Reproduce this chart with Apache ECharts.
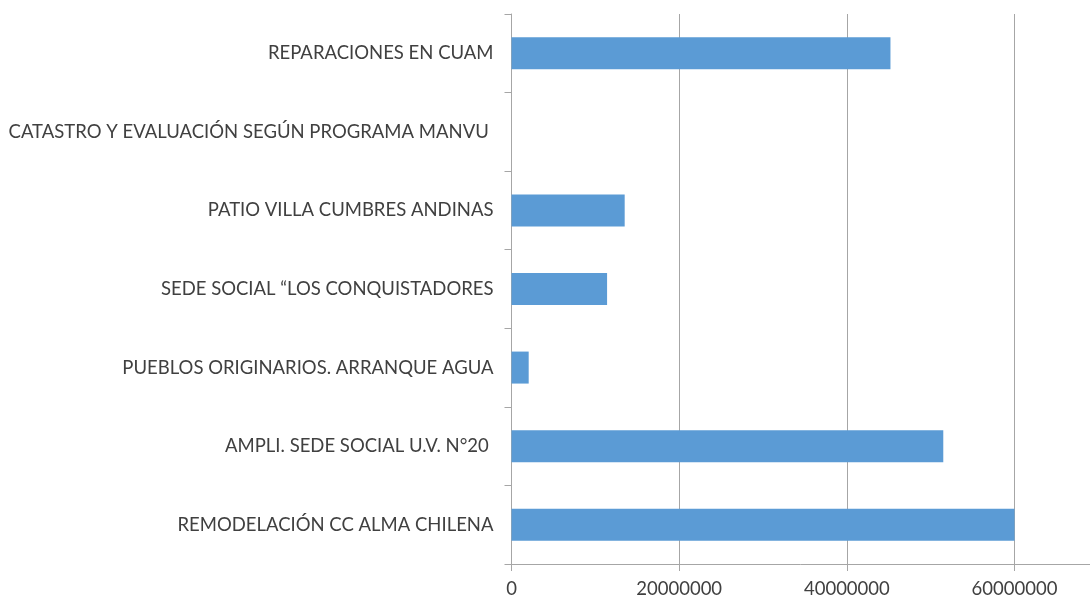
<!DOCTYPE html>
<html>
<head>
<meta charset="utf-8">
<script src="https://cdn.jsdelivr.net/npm/echarts@6/dist/echarts.min.js"></script>
<style>
  html, body { margin: 0; padding: 0; background: #fff; }
  #chart { width: 1090px; height: 603px; }
</style>
</head>
<body>
<div id="chart"></div>
<script>
// categories, bottom to top as drawn on the axis
const projects = [
  'REMODELACIÓN CC ALMA CHILENA',
  'AMPLI. SEDE SOCIAL U.V. N°20 ',
  'PUEBLOS ORIGINARIOS. ARRANQUE AGUA',
  'SEDE SOCIAL “LOS CONQUISTADORES',
  'PATIO VILLA CUMBRES ANDINAS',
  'CATASTRO Y EVALUACIÓN SEGÚN PROGRAMA MANVU ',
  'REPARACIONES EN CUAM'
];
const amounts = [60000000, 51500000, 2050000, 11400000, 13500000, 0, 45200000];

const gray = '#a6a6a6';
const textColor = '#404040';
const font = 'Lato';

let chart = echarts.init(document.getElementById('chart'));
let option = {
  animation: false,
  // the original picture is cut on the right, axis ends at the canvas edge
  grid: { left: 511.5, top: 14, bottom: 39, right: 0, containLabel: false },
  xAxis: {
    type: 'value',
    min: 0,
    max: 69000000,
    interval: 20000000,
    axisLine: { show: true, lineStyle: { color: gray } },
    axisTick: { show: true, length: 7, lineStyle: { color: gray } },
    splitLine: { show: true, showMaxLine: false, lineStyle: { color: gray, width: 1 } },
    axisLabel: {
      color: textColor, fontFamily: font, fontSize: 18.5, margin: 16,
      showMaxLabel: false,
      formatter: (v) => String(v)
    }
  },
  yAxis: {
    type: 'category',
    data: projects,
    axisLine: { show: true, lineStyle: { color: gray } },
    axisTick: { show: true, length: 7, lineStyle: { color: gray } },
    splitLine: { show: false },
    axisLabel: { color: textColor, fontFamily: font, fontSize: 18.5, margin: 18 }
  },
  series: [
    {
      type: 'bar',
      data: amounts,
      barWidth: 32,
      itemStyle: { color: '#5b9bd5' }
    }
  ]
};
chart.setOption(option);
</script>
</body>
</html>
